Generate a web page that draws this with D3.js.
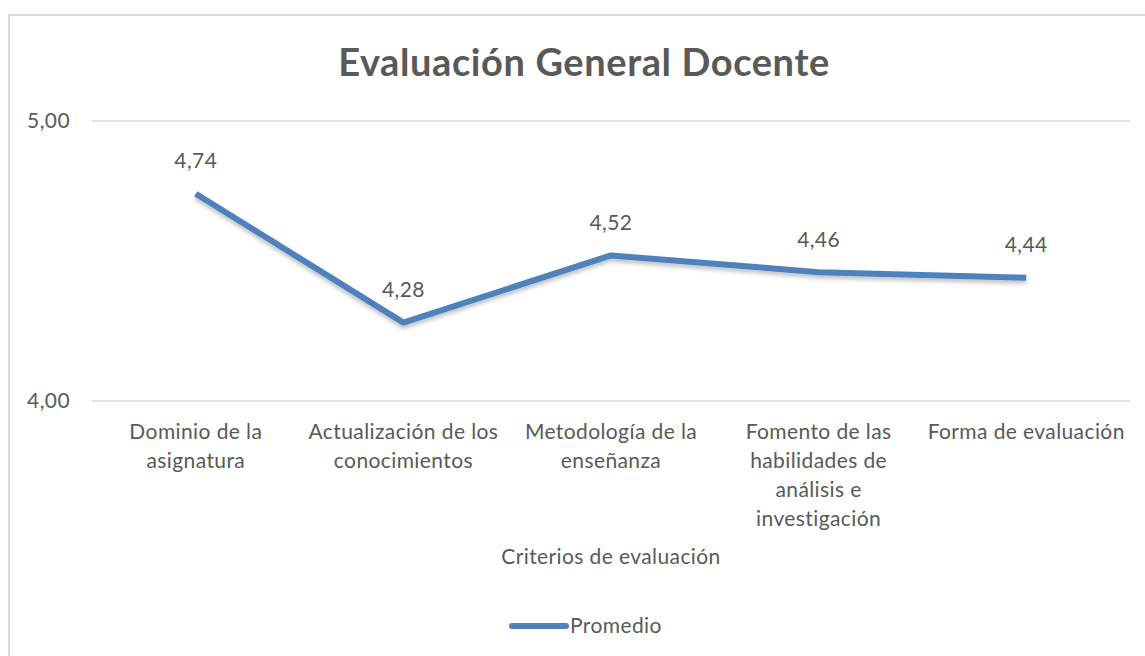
<!DOCTYPE html>
<html>
<head>
<meta charset="utf-8">
<script src="https://cdn.jsdelivr.net/npm/d3@7"></script>
<style>
  body { margin: 0; background: #fff; }
  text { font-family: Lato, "Open Sans", sans-serif; fill: #595959; }
</style>
</head>
<body>
<div id="chart"></div>
<script>
// Data
var categories = ["Dominio de la asignatura", "Actualización de los conocimientos",
  "Metodología de la enseñanza", "Fomento de las habilidades de análisis e investigación",
  "Forma de evaluación"];
var tickLines = [
  ["Dominio de la", "asignatura"],
  ["Actualización de los", "conocimientos"],
  ["Metodología de la", "enseñanza"],
  ["Fomento de las", "habilidades de", "análisis e", "investigación"],
  ["Forma de evaluación"]
];
var promedio = [4.74, 4.28, 4.52, 4.46, 4.44];
var yTicks = [4, 5];

var W = 1145, H = 656;
var margins = {top: 121, bottom: 255, left: 92, right: 15};
var width = W - margins.left - margins.right;
var height = H - margins.top - margins.bottom;
var fs = "21px", ls = "0.4px";

var svg = d3.select("#chart").append("svg")
  .attr("width", W)
  .attr("height", H);

// chart frame
svg.append("rect")
  .attr("x", 9).attr("y", 15)
  .attr("width", W + 20).attr("height", H + 20)
  .attr("fill", "none")
  .attr("stroke", "#d9d9d9")
  .attr("stroke-width", 2);

// shadow for the line
var defs = svg.append("defs");
var f = defs.append("filter").attr("id", "shadow")
  .attr("x", "-10%").attr("y", "-10%").attr("width", "120%").attr("height", "140%");
f.append("feDropShadow").attr("dx", 0).attr("dy", 3).attr("stdDeviation", 2)
  .attr("flood-color", "#000").attr("flood-opacity", 0.25);

var g = svg.append("g")
  .attr("transform", "translate(" + margins.left + "," + margins.top + ")");

var x = d3.scaleBand().domain(categories).range([0, width]);
var y = d3.scaleLinear().domain([4, 5]).range([height, 0]);

// gridlines
g.selectAll(".grid").data(yTicks).enter().append("line")
  .attr("x1", 0).attr("x2", width)
  .attr("y1", function(d){ return y(d); })
  .attr("y2", function(d){ return y(d); })
  .attr("stroke", "#d9d9d9")
  .attr("stroke-width", 1.5);

// y labels
g.selectAll(".ylab").data(yTicks).enter().append("text")
  .attr("x", -22)
  .attr("y", function(d){ return y(d); })
  .attr("dy", "0.35em")
  .attr("text-anchor", "end")
  .style("font-size", fs).style("letter-spacing", ls)
  .text(function(d){ return d3.format(".2f")(d).replace(".", ","); });

// x labels
var xl = g.selectAll(".xlab").data(categories).enter().append("text")
  .attr("text-anchor", "middle")
  .attr("transform", function(d){ return "translate(" + (x(d) + x.bandwidth() / 2) + "," + (height + 38) + ")"; })
  .style("font-size", fs).style("letter-spacing", ls);
xl.selectAll("tspan").data(function(d, i){ return tickLines[i]; }).enter().append("tspan")
  .attr("x", 0)
  .attr("y", function(d, i){ return i * 29; })
  .text(function(d){ return d; });

// line
var line = d3.line()
  .x(function(d, i){ return x(categories[i]) + x.bandwidth() / 2; })
  .y(function(d){ return y(d); });

g.append("path")
  .datum(promedio)
  .attr("d", line)
  .attr("fill", "none")
  .attr("stroke", "#4f81bd")
  .attr("stroke-width", 6)
  .attr("stroke-linejoin", "round")
  .attr("filter", "url(#shadow)");

// data labels
g.selectAll(".dlab").data(promedio).enter().append("text")
  .attr("x", function(d, i){ return x(categories[i]) + x.bandwidth() / 2; })
  .attr("y", function(d){ return y(d) - 33; })
  .attr("dy", "0.35em")
  .attr("text-anchor", "middle")
  .style("font-size", fs).style("letter-spacing", ls)
  .text(function(d){ return d3.format(".2f")(d).replace(".", ","); });

// title
svg.append("text")
  .attr("x", 584).attr("y", 63)
  .attr("dy", "0.35em")
  .attr("text-anchor", "middle")
  .style("font-size", "38px")
  .style("letter-spacing", "0.6px")
  .style("font-weight", "bold")
  .text("Evaluación General Docente");

// axis title
svg.append("text")
  .attr("x", margins.left + width / 2).attr("y", 557)
  .attr("dy", "0.35em")
  .attr("text-anchor", "middle")
  .style("font-size", fs).style("letter-spacing", ls)
  .text("Criterios de evaluación");

// legend
var lg = svg.append("g").attr("transform", "translate(512,626)");
lg.append("line")
  .attr("x1", 0).attr("x2", 54)
  .attr("stroke", "#4f81bd").attr("stroke-width", 6)
  .attr("stroke-linecap", "round");
lg.append("text")
  .attr("x", 58).attr("dy", "0.35em")
  .style("font-size", fs).style("letter-spacing", ls)
  .text("Promedio");
</script>
</body>
</html>
